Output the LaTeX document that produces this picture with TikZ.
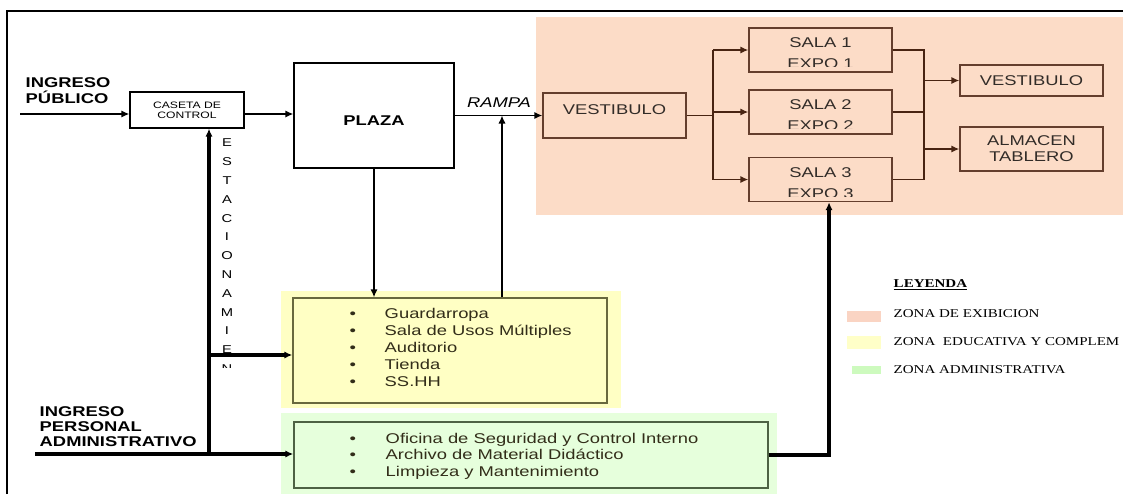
\documentclass[tikz,border=0pt]{standalone}
\usepackage{fontspec}
\setmainfont{Liberation Sans}[FakeStretch=1.3]
\newfontfamily\leyfont{Liberation Serif}[FakeStretch=1.25]
\usetikzlibrary{arrows.meta}
\definecolor{zonaexpo}{RGB}{252,220,199}
\definecolor{zonaedu}{RGB}{255,255,196}
\definecolor{zonaadm}{RGB}{230,255,220}
\definecolor{bordeexpo}{RGB}{100,62,45}
\definecolor{flechaexpo}{RGB}{72,36,18}
\definecolor{bordeedu}{RGB}{105,105,62}
\definecolor{bordeadm}{RGB}{78,98,68}
\definecolor{textoitem}{RGB}{50,45,25}
\definecolor{textocaja}{RGB}{50,44,40}
\definecolor{leyexpo}{RGB}{250,212,195}
\definecolor{leyedu}{RGB}{255,255,200}
\definecolor{leyadm}{RGB}{205,250,190}
\begin{document}
\begin{tikzpicture}[x=0.75pt, y=-0.75pt, line width=1.1pt, >={Latex[length=6pt,width=5.5pt]},
  every node/.style={font=\fontsize{10.6}{12.8}\selectfont, inner sep=0pt},
  tam/.style 2 args={minimum width=#1*0.75pt, minimum height=#2*0.75pt},
  caja/.style={draw, line width=1pt},
  cajaexpo/.style={draw=bordeexpo, line width=1.1pt, text=textocaja},
  grueso/.style={line width=2.6pt},
  flujo/.style={->, draw=flechaexpo},
  titulo/.style={anchor=west, align=left, font=\fontsize{10.6}{12}\selectfont\bfseries},
  lista/.style={anchor=west, text=textoitem, text height=7.6pt, text depth=0pt},
  leyenda/.style={anchor=west, font=\leyfont\fontsize{9}{10}\selectfont}]
  \useasboundingbox (0,0) rectangle (1123,494);
  % zonas de fondo
  \fill[zonaexpo] (536,17) rectangle (1123,215);
  \fill[zonaedu] (281,291) rectangle (621,408);
  \fill[zonaadm] (281,413) rectangle (777,494);
  \draw (7,494) -- (7,11) -- (1123,11);

  % ingreso publico
  \node[titulo] (ipub) at (25,91) {INGRESO\\PÚBLICO};
  \node[caja, tam={114}{36}, align=center, font=\fontsize{7}{7.5}\selectfont] (caseta) at (187,110) {CASETA DE\\CONTROL};
  \node[caja, tam={160}{105}, font=\fontsize{10.6}{12}\selectfont\bfseries, text height=14.3pt] (plaza) at (374,115.5) {PLAZA};
  \node[font=\fontsize{10.6}{12}\selectfont\itshape] (rampa) at (499,103) {RAMPA};
  \coordinate (entrada) at (20,114);
  \draw[->] (entrada) -- (entrada -| caseta.west);
  \draw[->] (entrada -| caseta.east) -- (entrada -| plaza.west);

  % zona de exhibicion
  \node[cajaexpo, tam={143}{45}, text depth=9pt] (vest) at (614.5,115.5) {VESTIBULO};
  \foreach \n/\yc in {1/50,2/112,3/179.5}{
    \node[cajaexpo, tam={143}{44}] (sala\n) at (820.5,\yc) {};
    \begin{scope}
      \clip (sala\n.north west) rectangle ([yshift=4.6pt]sala\n.south east);
      \node[align=center, text=textocaja, font=\fontsize{10.6}{15.75}\selectfont] (st\n) at ([yshift=-19.6pt]sala\n.north) {SALA \n\\EXPO \n};
    \end{scope}
  }
  \node[cajaexpo, tam={143}{31}] (vest2) at (1031.5,80.5) {VESTIBULO};
  \node[cajaexpo, tam={143}{44}, align=center, font=\fontsize{10.6}{12}\selectfont] (alm) at (1031.5,149) {ALMACEN\\TABLERO};
  \draw[->] (plaza.east) -- (vest.west);
  \coordinate (reparte) at (713,0);
  \coordinate (junta) at (924,0);
  \draw[flechaexpo] (vest.east) -- (vest.east -| reparte);
  \draw[flechaexpo] (reparte |- sala1.west) -- (reparte |- sala3.west);
  \draw[flechaexpo] (sala1.east) -- (sala1.east -| junta) -- (sala3.east -| junta) -- (sala3.east);
  \draw[flechaexpo] (sala2.east) -- (sala2.east -| junta);
  \foreach \n in {1,2,3}
    \draw[flujo] (reparte |- sala\n.west) -- (sala\n.west);
  \draw[flujo] (junta |- vest2.west) -- (vest2.west);
  \draw[flujo] (junta |- alm.west) -- (alm.west);

  % zona educativa
  \node[draw=bordeedu, line width=1.1pt, tam={314}{105}] (edu) at (450,350.5) {};
  \foreach \lugar [count=\k] in {Guardarropa, Sala de Usos Múltiples, Auditorio, Tienda, SS.HH}{
    \node[lista] (pe\k) at (349,{313+17.2*(\k-1)}) {•};
    \node[lista] (te\k) at (384,{313+17.2*(\k-1)}) {\lugar};
  }
  \coordinate (sube) at (502,115.5);
  \draw[->] (plaza.south) -- (plaza.south |- edu.north);
  \draw[->] (edu.north -| sube) -- (sube);

  % zona administrativa
  \node[draw=bordeadm, line width=1.1pt, tam={474}{66}] (adm) at (531,455) {};
  \foreach \lugar [count=\k] in {Oficina de Seguridad y Control Interno, Archivo de Material Didáctico, Limpieza y Mantenimiento}{
    \node[lista] (pa\k) at (349,{438+16.5*(\k-1)}) {•};
    \node[lista] (ta\k) at (385,{438+16.5*(\k-1)}) {\lugar};
  }
  \node[titulo, font=\fontsize{10.6}{11.25}\selectfont\bfseries] (iadm) at (39,427) {INGRESO\\PERSONAL\\ADMINISTRATIVO};

  % estacionamiento
  \begin{scope}
    \clip (215,130) rectangle (240,367.5);
    \foreach \letra [count=\k] in {E,S,T,A,C,I,O,N,A,M,I,E,N}
      \node[font=\fontsize{8.5}{10}\selectfont] (le\k) at (227,{143+18.8*(\k-1)}) {\letra};
  \end{scope}
  \coordinate (abajo) at (35,454);
  \coordinate (cruce) at (209,454);
  \coordinate (ramal) at (209,355);
  \draw[grueso, ->] (abajo) -- (abajo -| adm.west);
  \draw[grueso, ->] (cruce) -- (cruce |- caseta.south);
  \draw[grueso, ->] (ramal) -- (ramal -| edu.west);
  \draw[grueso, ->] (adm.east) -| ([xshift=6.4pt]sala3.south);

  % leyenda
  \node[leyenda, font=\leyfont\fontsize{9}{10}\selectfont\bfseries] (ley) at (893,285) {\underline{LEYENDA}};
  \foreach \col/\ya/\yb/\xa/\yt/\txt [count=\k] in {leyexpo/311/322/847/314/ZONA DE EXIBICION, leyedu/336/349/847/342/ZONA~ EDUCATIVA Y COMPLEM, leyadm/366/374/852/370/ZONA ADMINISTRATIVA}{
    \fill[\col] (\xa,\ya) rectangle (881,\yb);
    \node[leyenda] (lz\k) at (893,\yt) {\txt};
  }
\end{tikzpicture}
\end{document}
